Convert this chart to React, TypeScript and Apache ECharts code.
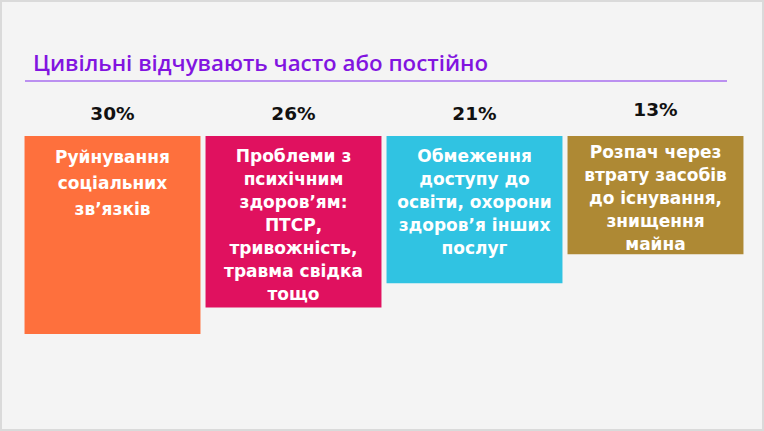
import { useEffect, useRef } from 'react';
import * as echarts from 'echarts';

// Cards of the infographic: label inside, share above
const categories = [
  'Руйнування\nсоціальних\nзв’язків',
  'Проблеми з\nпсихічним\nздоров’ям:\nПТСР,\nтривожність,\nтравма свідка\nтощо',
  'Обмеження\nдоступу до\nосвіти, охорони\nздоров’я інших\nпослуг',
  'Розпач через\nвтрату засобів\nдо існування,\nзнищення\nмайна',
];
const shares = [30, 26, 21, 13];
// how far each card reaches down (same units as the share)
const cardDepth = [30, 26, 22.3, 17.9];
const cardColors = ['#fe703d', '#e0115f', '#30c3e2', '#ae8934'];

const TITLE = 'Цивільні відчувають часто або постійно';

export default function App() {
  const ref = useRef<HTMLDivElement>(null);

  useEffect(() => {
    document.body.style.margin = '0';
    if (!ref.current) return;
    const chart = echarts.init(ref.current, null, { renderer: 'svg' });

    const pctStyle = {
      color: '#111',
      fontFamily: 'DejaVu Sans',
      fontWeight: 'bold' as const,
      fontSize: 18.5,
    };

    chart.setOption({
      animation: false,
      backgroundColor: '#f4f4f4',
      title: {
        text: TITLE,
        left: 28,
        top: 46,
        textStyle: {
          color: '#8214e0',
          fontFamily: 'Open Sans',
          fontWeight: 600,
          fontSize: 22.3,
        },
      },
      graphic: [
        {
          type: 'rect',
          shape: { x: 1, y: 1, width: 762, height: 429 },
          style: { fill: 'none', stroke: '#dadada', lineWidth: 2 },
        },
        {
          type: 'line',
          shape: { x1: 25, y1: 81, x2: 727, y2: 81 },
          style: { stroke: '#bb90f0', lineWidth: 2 },
        },
      ],
      grid: { left: 22, right: 18, top: 136, bottom: 31 },
      xAxis: {
        type: 'category',
        position: 'top',
        data: categories,
        axisLine: { show: false },
        axisTick: { show: false },
        axisLabel: {
          margin: 13,
          ...pctStyle,
          // the last share sits a little higher in the original
          formatter: (_v: string, i: number) =>
            i === 3 ? `{up|${shares[i]}%}` : `{n|${shares[i]}%}`,
          rich: {
            n: { ...pctStyle },
            up: { ...pctStyle, padding: [0, 0, 4, 0] },
          },
        },
      },
      yAxis: {
        type: 'value',
        inverse: true,
        min: 0,
        max: 40,
        show: false,
        splitLine: { show: false },
      },
      series: [
        {
          type: 'bar',
          barCategoryGap: '2.8%',
          data: cardDepth.map((v, i) => ({
            value: v,
            itemStyle: { color: cardColors[i] },
            label:
              i === 0
                ? { lineHeight: 26, distance: 8 }
                : i === 3
                  ? { distance: 4 }
                  : undefined,
          })),
          label: {
            show: true,
            position: 'insideTop',
            distance: 8,
            formatter: '{b}',
            color: '#fff',
            fontFamily: 'DejaVu Sans',
            fontWeight: 'bold',
            fontSize: 17,
            lineHeight: 23,
            align: 'center',
          },
        },
      ],
    });

    return () => chart.dispose();
  }, []);

  return <div ref={ref} style={{ width: 764, height: 431 }} />;
}
